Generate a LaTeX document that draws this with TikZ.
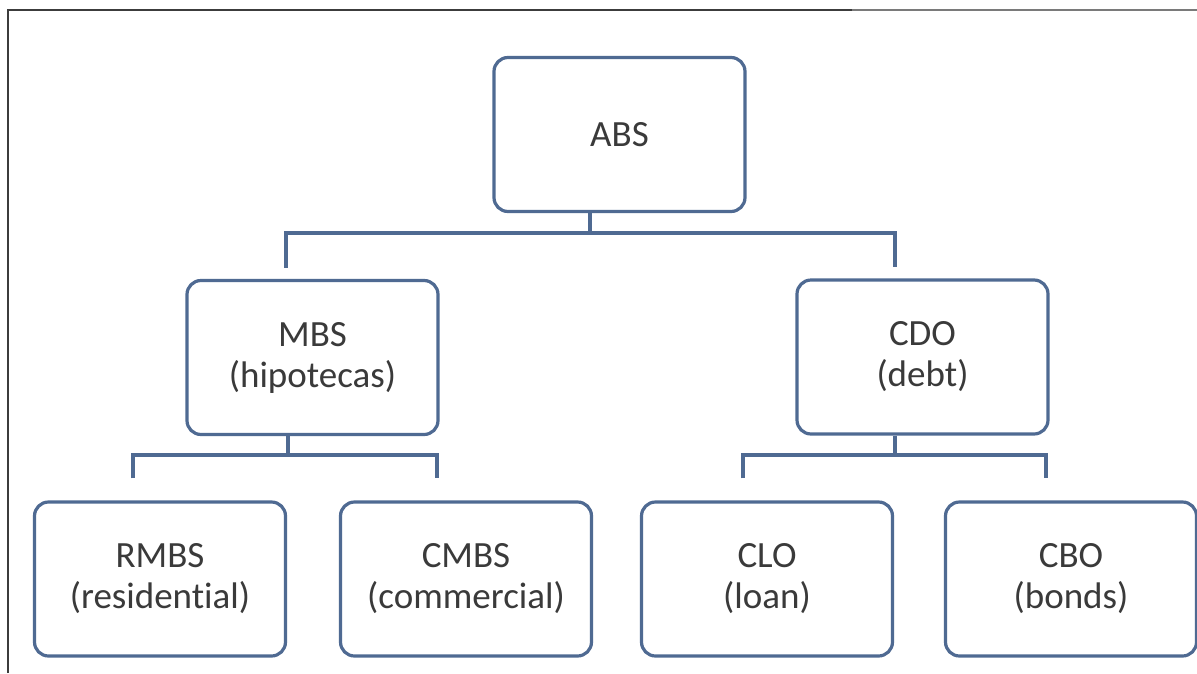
\documentclass[tikz,border=0pt]{standalone}
\usepackage{fontspec}
\setmainfont[Ligatures=NoCommon]{Carlito}
\definecolor{boxc}{HTML}{4F6A92}
\definecolor{txt}{HTML}{3A3A3A}
\definecolor{framec}{HTML}{3C3C3C}
\definecolor{framelt}{HTML}{7A7A7A}
\tikzset{
  box/.style={draw=boxc, line width=3.2pt, rounded corners=14pt, fill=white,
    minimum width=251pt, minimum height=154pt, inner sep=0pt, align=center,
    text=txt, font=\fontsize{37}{41}\selectfont},
  conn/.style={draw=boxc, line width=3.2pt},
  frameline/.style={draw=framec, line width=2.2pt}
}
\begin{document}
\begin{tikzpicture}[x=1pt,y=-1pt]
\useasboundingbox (0,0) rectangle (1197,673);
\fill[white] (0,0) rectangle (1197,673);
% frame
\coordinate (fa) at (8,673);
\coordinate (fb) at (8,10);
\coordinate (fc) at (852,10);
\coordinate (fd) at (1197,10);
\draw[frameline] (fa) -- (fb) -- (fc);
\draw[frameline, draw=framelt] (fc) -- (fd);
% nodes
\node[box] (abs)  at (619.5,134.5) {ABS};
\node[box] (mbs)  at (312.5,357.5) {MBS\\(hipotecas)};
\node[box] (cdo)  at (922.5,357)   {CDO\\(debt)};
\node[box] (rmbs) at (160,579)     {RMBS\\(residential)};
\node[box] (cmbs) at (466,579)     {CMBS\\(commercial)};
\node[box] (clo)  at (767,579)     {CLO\\(loan)};
\node[box] (cbo)  at (1071,579)    {CBO\\(bonds)};
% junction coordinates
\coordinate (j0) at (590,233);
\coordinate (j0l) at (286,233);
\coordinate (j0r) at (895,233);
\coordinate (j1) at (288,455);
\coordinate (j1l) at (133,455);
\coordinate (j1r) at (437,455);
\coordinate (j2) at (895,455);
\coordinate (j2l) at (743,455);
\coordinate (j2r) at (1046,455);
% connectors level 1
\draw[conn] (abs.south -| j0) -- (j0);
\draw[conn, shorten <=11pt, shorten >=11pt] (mbs.north -| j0l) |- (j0) -| (cdo.north -| j0r);
% connectors level 2 (MBS)
\draw[conn] (mbs.south -| j1) -- (j1);
\draw[conn, shorten <=22pt, shorten >=22pt] (rmbs.north -| j1l) |- (j1) -| (cmbs.north -| j1r);
% connectors level 2 (CDO)
\draw[conn] (cdo.south -| j2) -- (j2);
\draw[conn, shorten <=22pt, shorten >=22pt] (clo.north -| j2l) |- (j2) -| (cbo.north -| j2r);
\end{tikzpicture}
\end{document}
